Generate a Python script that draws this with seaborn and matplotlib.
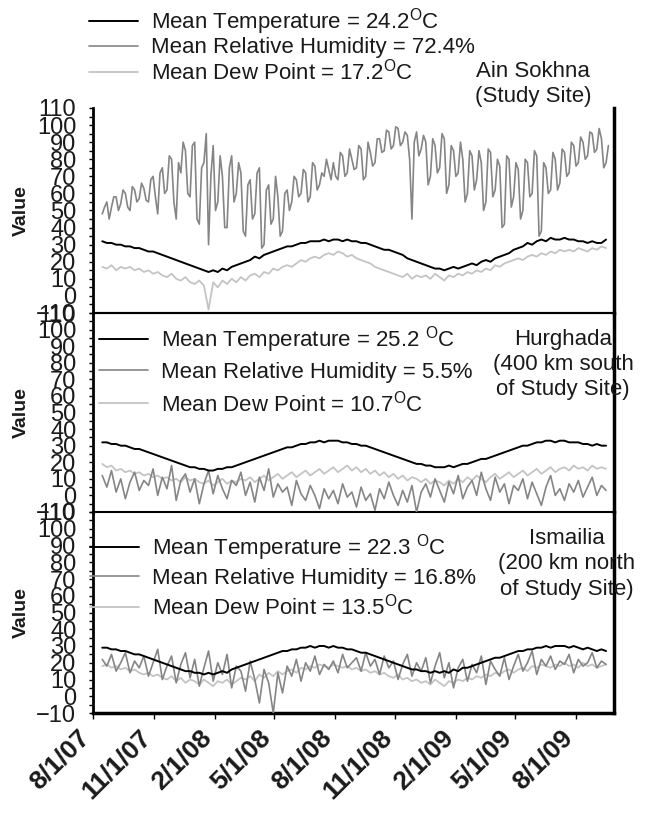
import numpy as np
import pandas as pd
import matplotlib
matplotlib.use("Agg")
import matplotlib.pyplot as plt
import matplotlib.transforms as mtrans
import seaborn as sns

sns.set_theme(style="white")
plt.rcParams["font.family"] = ["Liberation Sans", "DejaVu Sans"]
plt.rcParams["mathtext.fontset"] = "custom"
plt.rcParams["mathtext.rm"] = "Liberation Sans"
plt.rcParams["mathtext.it"] = "Liberation Sans"

# ---------------- data (readings estimated from the chart) ----------------
start_date = "2007-08-15"
n_weeks = 110          # weekly readings
n_half = 220           # twice-weekly readings (Ain Sokhna humidity)

ain_temp = [32,31,31,30,30,29,29,28,28,27,
            26,26,25,24,23,22,21,20,19,18,
            17,16,15,14,15,14,16,15,17,18,
            19,20,21,23,22,24,25,26,27,28,
            29,29,30,31,31,32,32,32,33,32,
            33,33,32,33,32,32,31,31,30,29,
            28,27,27,26,25,24,22,21,20,19,
            18,17,16,16,15,16,17,16,17,18,
            19,18,20,21,20,22,23,24,25,27,
            28,29,31,30,32,33,32,34,33,33,
            34,33,33,32,32,31,32,31,31,33]
ain_rh = [48,52, 55,45, 52,58, 58,50, 54,62, 60,52, 50,64, 62,55, 57,66, 63,56,
          55,68, 70,58, 48,72, 75,60, 62,82, 80,55, 45,78, 72,90, 85,60, 58,88,
          90,45, 42,75, 78,95, 30,70, 88,50, 55,82, 70,40, 40,75, 82,55, 60,78,
          72,38, 35,65, 68,45, 48,72, 75,28, 30,62, 65,42, 45,70, 58,35, 38,60,
          62,50, 55,70, 68,58, 60,74, 72,55, 58,78, 76,62, 65,72, 70,80, 74,68,
          78,70, 68,84, 82,70, 72,86, 80,74, 75,88, 86,68, 70,90, 84,76, 78,92,
          92,84, 85,97, 96,86, 88,99, 98,88, 90,96, 94,80, 45,90, 96,82, 86,94,
          90,65, 70,92, 88,72, 75,95, 92,60, 65,88, 85,70, 72,90, 80,55, 60,85,
          82,62, 68,85, 78,50, 55,86, 84,58, 62,80, 76,40, 42,82, 80,52, 58,78,
          74,45, 50,80, 78,58, 60,85, 82,35, 38,78, 75,60, 62,84, 80,62, 66,86,
          84,70, 72,90, 88,76, 78,93, 90,80, 82,96, 95,84, 86,98, 92,75, 78,88]
ain_dew = [17,16,18,15,17,16,17,15,16,14,
           15,13,14,12,11,13,10,9,11,8,
           7,9,6,-8,8,5,9,7,10,8,
           11,9,12,13,11,14,13,16,15,17,
           18,17,19,21,20,22,23,22,24,25,
           24,26,25,23,24,22,21,20,19,17,
           16,15,14,13,12,11,13,10,12,11,
           12,10,13,11,9,12,11,13,12,14,
           13,15,14,16,15,18,17,19,20,21,
           22,21,23,24,23,25,24,26,25,27,
           26,27,26,28,27,26,28,27,29,28]

hur_temp = [32,32,31,31,30,30,29,28,28,27,
            26,25,24,23,22,21,20,19,18,17,
            17,16,16,15,15,16,16,17,17,18,
            19,20,21,22,23,24,25,26,27,28,
            29,29,30,31,31,32,32,33,32,33,
            33,33,32,32,31,31,30,30,29,28,
            27,26,25,24,23,22,21,20,19,19,
            18,18,17,17,17,18,17,18,19,19,
            20,21,22,22,23,24,25,26,27,28,
            29,30,30,31,32,32,33,33,32,33,
            33,32,32,32,31,31,30,31,30,30]
hur_rh = [12,5,15,2,10,-2,8,14,3,9,
          6,16,0,11,4,18,-3,9,13,2,
          10,-5,7,15,1,12,4,-2,9,6,
          14,0,8,-4,11,3,16,-1,7,2,
          5,-6,9,1,-3,6,0,-8,4,-2,
          3,-5,7,-1,2,-7,5,-3,1,-9,
          4,-2,8,0,-6,3,-4,6,-10,2,
          7,-1,10,3,-4,8,1,12,-2,5,
          9,0,14,4,-3,11,2,7,-5,6,
          3,10,-2,8,1,-6,5,12,0,4,
          -3,7,2,9,-1,5,11,0,6,3]
hur_dew = [19,17,18,15,16,14,15,13,14,12,
           13,11,12,10,11,9,10,8,11,9,
           10,8,7,9,6,8,10,7,9,8,
           10,9,11,8,10,12,9,11,13,10,
           12,14,11,13,15,12,14,16,13,15,
           17,14,16,18,15,17,14,16,13,15,
           12,14,11,13,10,12,9,11,10,8,
           10,7,9,8,6,9,7,10,8,11,
           9,12,10,8,11,13,10,12,14,11,
           13,15,12,14,16,13,15,17,14,16,
           17,15,18,16,17,15,18,16,17,16]

ism_temp = [29,29,28,28,27,27,26,25,25,24,
            23,22,21,20,19,18,17,16,15,15,
            14,14,13,14,13,14,15,14,16,17,
            18,19,20,21,22,23,24,25,26,27,
            27,28,28,29,29,30,29,30,30,29,
            30,29,29,28,28,27,26,26,25,24,
            23,22,21,20,19,18,17,16,16,15,
            15,14,15,14,15,14,16,15,17,17,
            18,19,20,21,22,23,23,24,25,26,
            27,27,28,28,29,29,30,29,30,30,
            30,29,30,29,28,29,28,27,28,27]
ism_rh = [22,18,25,15,20,26,14,21,17,24,
          12,20,28,10,18,24,8,19,26,11,
          22,6,17,27,9,20,13,25,5,18,
          15,3,21,10,-4,16,8,-10,14,2,
          18,12,22,9,20,15,24,13,19,16,
          21,14,25,17,20,23,15,26,18,22,
          13,24,17,21,10,19,25,12,20,15,
          23,8,18,26,11,20,5,17,22,9,
          19,14,24,7,21,16,12,23,10,18,
          25,15,20,27,13,22,18,24,16,21,
          19,25,14,22,18,20,26,17,21,19]
ism_dew = [18,19,17,18,16,17,15,16,14,13,
           14,12,13,11,10,12,9,11,8,10,
           9,7,10,8,6,9,8,10,7,9,
           11,10,12,9,13,11,14,12,15,13,
           15,16,14,17,16,18,17,19,18,17,
           19,18,17,18,16,17,15,16,14,15,
           13,14,12,11,13,10,11,9,10,8,
           9,7,10,8,6,9,8,10,9,11,
           10,12,11,13,12,14,13,15,16,14,
           16,17,15,18,17,19,18,17,19,18,
           20,18,19,17,20,18,19,17,18,19]

tick_dates = ["2007-08-01","2007-11-01","2008-02-01","2008-05-01","2008-08-01",
              "2008-11-01","2009-02-01","2009-05-01","2009-08-01"]
tick_labels = ["8/1/07","11/1/07","2/1/08","5/1/08","8/1/08",
               "11/1/08","2/1/09","5/1/09","8/1/09"]

deg = r"$^{\mathrm{O}}$"
panels = [
    dict(temp=ain_temp, rh=ain_rh, dew=ain_dew,
         labels=["Mean Temperature = 24.2" + deg + "C",
                 "Mean Relative Humidity = 72.4%",
                 "Mean Dew Point = 17.2" + deg + "C"],
         site=["Ain Sokhna", "(Study Site)"]),
    dict(temp=hur_temp, rh=hur_rh, dew=hur_dew,
         labels=["Mean Temperature = 25.2 " + deg + "C",
                 "Mean Relative Humidity = 5.5%",
                 "Mean Dew Point = 10.7" + deg + "C"],
         site=["Hurghada", "(400 km south", "of Study Site)"]),
    dict(temp=ism_temp, rh=ism_rh, dew=ism_dew,
         labels=["Mean Temperature = 22.3 " + deg + "C",
                 "Mean Relative Humidity = 16.8%",
                 "Mean Dew Point = 13.5" + deg + "C"],
         site=["Ismailia", "(200 km north", "of Study Site)"]),
]

dates_w = pd.date_range(start_date, periods=n_weeks, freq="7D")
dates_h = pd.date_range(start_date, periods=n_half, freq="84h")

C_T, C_RH, C_DP = "#000000", "#858585", "#c4c4c4"
TXT = "#1a1a1a"

W, H = 646, 814
fig = plt.figure(figsize=(W / 100, H / 100), dpi=100)

rows = [(108, 313), (313, 512), (512, 713)]
x0, x1 = 93, 614

leg_pos = [(89, 6), (99, 324), (90, 532)]
leg_spacing = [0.02, 0.32, 0.22]
site_pos = [(533, 84), (563, 365), (567, 564)]
site_ls = [1.2, 1.25, 1.3]

xmin = pd.Timestamp("2007-08-01")
xmax = pd.Timestamp("2009-09-28")

FS = 16

for i, (p, (top, bot)) in enumerate(zip(panels, rows)):
    ax = fig.add_axes([x0 / W, 1 - bot / H, (x1 - x0) / W, (bot - top) / H])
    dfw = pd.DataFrame({"date": dates_w, "T": p["temp"], "DP": p["dew"]})
    rh_dates = dates_h if len(p["rh"]) == n_half else dates_w
    dfr = pd.DataFrame({"date": rh_dates, "RH": p["rh"]})
    sns.lineplot(data=dfw, x="date", y="DP", color=C_DP, lw=1.3, ax=ax, zorder=2)
    sns.lineplot(data=dfr, x="date", y="RH", color=C_RH, lw=1.2, ax=ax, zorder=3)
    sns.lineplot(data=dfw, x="date", y="T", color=C_T, lw=1.4, ax=ax, zorder=4)
    lines = ax.get_lines()
    handles = [lines[2], lines[1], lines[0]]

    ax.set_ylim(-10, 110)
    ax.set_yticks(np.arange(-10, 111, 10))
    ax.set_yticks(np.arange(-10, 111, 5), minor=True)
    ax.tick_params(axis="y", which="major", direction="out", length=3, width=1,
                   color="black", labelsize=17, pad=9, labelcolor=TXT, left=True)
    ax.tick_params(axis="y", which="minor", direction="out", length=3, width=1,
                   color="black", left=True)
    ax.set_xlim(xmin, xmax)
    ax.set_ylabel("Value", fontsize=14, fontweight="bold", color=TXT)
    ax.yaxis.set_label_coords((30 - x0) / (x1 - x0), 0.5)
    ax.set_xlabel("")
    for s in ax.spines.values():
        s.set_color("black")
    ax.spines["left"].set_linewidth(2)
    ax.spines["right"].set_linewidth(2.5)
    ax.spines["top"].set_visible(i == 1)
    ax.spines["top"].set_linewidth(1.5)
    ax.spines["bottom"].set_linewidth(2.5 if i == 2 else 1.5)
    ax.set_facecolor("none")

    if i < 2:
        ax.set_xticks([])
    else:
        ax.set_xticks(pd.to_datetime(tick_dates))
        ax.set_xticklabels(tick_labels, rotation=45, ha="right", va="center",
                           rotation_mode="anchor", fontsize=19, fontweight="bold",
                           color=TXT)
        ax.tick_params(axis="x", direction="out", length=4, width=1, color="black",
                       bottom=True, pad=11)
        off = mtrans.ScaledTranslation(-7 / 100, 0, fig.dpi_scale_trans)
        for lab in ax.get_xticklabels():
            lab.set_transform(lab.get_transform() + off)

    lx, ly = leg_pos[i]
    fig.legend(handles, p["labels"], loc="upper left",
               bbox_to_anchor=(lx / W, 1 - ly / H), frameon=False,
               handlelength=2.2, handletextpad=0.6, labelspacing=leg_spacing[i],
               fontsize=FS, labelcolor=TXT, borderaxespad=0, borderpad=0)

    sx, sy = site_pos[i]
    fig.text(sx / W, 1 - sy / H, "\n".join(p["site"]), ha="center", va="center",
             multialignment="center", fontsize=FS, color=TXT,
             linespacing=site_ls[i])

fig.savefig("out.png", dpi=100)
